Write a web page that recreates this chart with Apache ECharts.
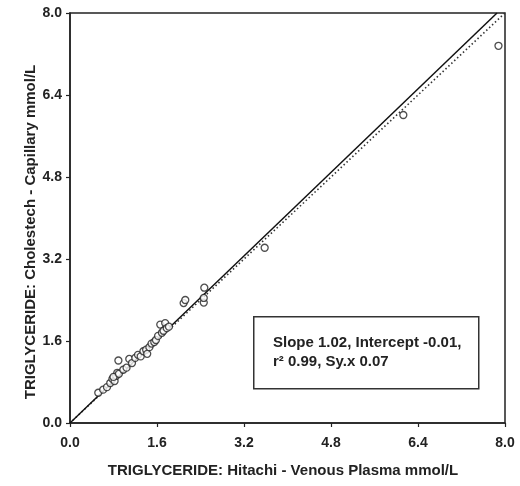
<!DOCTYPE html>
<html><head><meta charset="utf-8">
<script src="https://cdn.jsdelivr.net/npm/echarts@6/dist/echarts.min.js"></script>
<style>html,body{margin:0;padding:0;background:#fff}#c{width:520px;height:486px}</style>
</head><body><div id="c"></div>
<script>
var xTicks = [0, 1.6, 3.2, 4.8, 6.4, 8.0];
var hitachi = [0.52,0.61,0.68,0.74,0.78,0.82,0.85,0.87,0.80,0.90,0.89,0.98,1.04,1.09,1.14,1.20,1.25,1.30,1.35,1.40,1.42,1.46,1.50,1.55,1.58,1.62,1.66,1.69,1.72,1.75,1.78,1.82,2.09,2.12,2.46,2.46,2.47,3.58,6.13,7.88];
var cholestech = [0.59,0.65,0.70,0.78,0.86,0.82,0.92,0.98,0.90,0.96,1.22,1.04,1.08,1.25,1.17,1.27,1.33,1.30,1.40,1.43,1.35,1.48,1.55,1.58,1.62,1.70,1.92,1.76,1.80,1.95,1.85,1.88,2.34,2.40,2.35,2.44,2.64,3.42,6.01,7.36];
var slope = 1.02, intercept = -0.01;
var regLine = [[0, 0], [(8.0 - intercept) / slope, 8.0]];
var identityLine = [[0, 0], [8.0, 8.0]];
var xTitle = 'TRIGLYCERIDE: Hitachi - Venous Plasma mmol/L';
var yTitle = 'TRIGLYCERIDE: Cholestech - Capillary mmol/L';
var statsLine1 = "Slope 1.02, Intercept -0.01,";
var statsLine2 = "r\u00b2 0.99, Sy.x 0.07";

var pts = hitachi.map(function(x, i){ return [x, cholestech[i]]; });
var font = '"Liberation Sans", Arial, sans-serif';
var ink = '#222';
var axisCommon = {
  type: 'value', min: 0, max: 8, interval: 1.6,
  axisLine: {show: true, onZero: false, lineStyle: {color: ink, width: 1.5}},
  axisTick: {show: true, length: 4, lineStyle: {color: ink, width: 1.2}},
  splitLine: {show: false},
  axisLabel: {fontFamily: font, fontWeight: 'bold', fontSize: 14, color: ink,
    formatter: function(v){ return v.toFixed(1); }}
};
var chart = echarts.init(document.getElementById('c'), null, {renderer: 'canvas'});
chart.setOption({
  animation: false,
  backgroundColor: '#fff',
  grid: {left: 70, right: 15, top: 13, bottom: 63, show: true, borderColor: ink, borderWidth: 1.5},
  xAxis: Object.assign({}, axisCommon, {
    axisLabel: Object.assign({}, axisCommon.axisLabel, {margin: 13})
  }),
  yAxis: Object.assign({}, axisCommon, {
    axisLabel: Object.assign({}, axisCommon.axisLabel, {margin: 8})
  }),
  series: [
    {type: 'line', data: identityLine, showSymbol: false, symbol: 'none',
     lineStyle: {color: '#333', width: 1.6, type: [1.5, 2.5]}, z: 2},
    {type: 'line', data: regLine, showSymbol: false, symbol: 'none',
     lineStyle: {color: '#111', width: 1.5}, z: 3},
    {type: 'scatter', data: pts, symbol: 'circle', symbolSize: 7,
     itemStyle: {color: '#fff', borderColor: '#222', borderWidth: 1.3}, z: 4}
  ],
  graphic: [
    {type: 'rect', left: 253, top: 316, shape: {width: 225, height: 72},
     style: {fill: '#fff', stroke: '#333', lineWidth: 1.5}, z: 10},
    {type: 'text', x: 273, y: 343, z: 11,
     style: {text: statsLine1, fontFamily: font, fontWeight: 'bold', fontSize: 15, fill: ink, verticalAlign: 'middle'}},
    {type: 'text', x: 273, y: 362, z: 11,
     style: {text: statsLine2, fontFamily: font, fontWeight: 'bold', fontSize: 15, fill: ink, verticalAlign: 'middle'}},
    {type: 'text', x: 283, y: 471, z: 11,
     style: {text: xTitle, fontFamily: font, fontWeight: 'bold', fontSize: 15, fill: ink, align: 'center', verticalAlign: 'middle'}},
    {type: 'text', x: 31, y: 232, rotation: Math.PI / 2, z: 11,
     style: {text: yTitle, fontFamily: font, fontWeight: 'bold', fontSize: 15, fill: ink, align: 'center', verticalAlign: 'middle'}}
  ]
});
</script></body></html>
